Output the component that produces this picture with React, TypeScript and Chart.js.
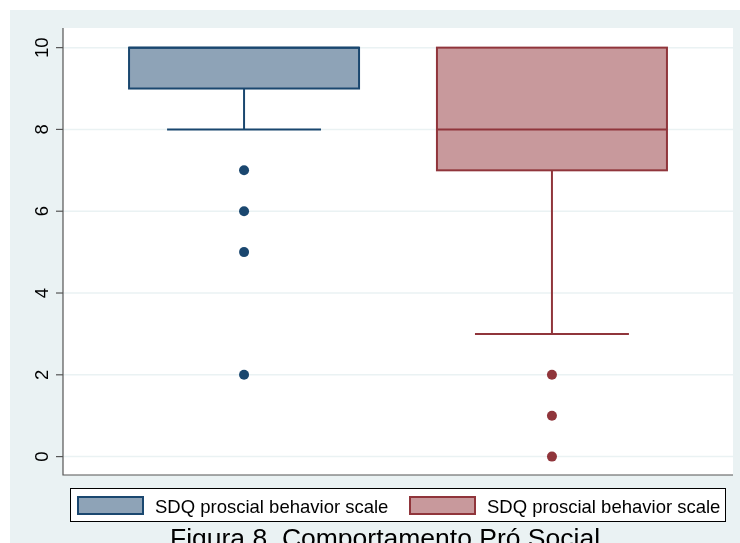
import React, { useEffect, useRef } from "react";
import { Chart, registerables } from "chart.js";

Chart.register(...registerables);

// ---- data ----
const categories = ["SDQ proscial behavior scale", "SDQ proscial behavior scale"];
const groupX = [1, 2];
const q1 = [9, 7];
const median = [10, 8];
const q3 = [10, 10];
const lowerWhisker = [8, 3];
const upperWhisker = [10, 10];
const outliers1 = [7, 6, 5, 2];
const outliers2 = [2, 1, 0];
const yTicks = [0, 2, 4, 6, 8, 10];
const titleText = "Figura 8. Comportamento Pró Social";

const fillColors = ["#8EA3B7", "#C8999C"];
const lineColors = ["#1A476F", "#90353B"];
const gridColor = "#EAF2F3";
const bgColor = "#EAF2F3";
const FONT = "'Liberation Sans', Arial, sans-serif";

const boxPlugin = {
  id: "boxPlugin",
  beforeDraw(chart: any) {
    const ctx = chart.ctx;
    const { left, right, top, bottom } = chart.chartArea;
    ctx.save();
    ctx.fillStyle = "#ffffff";
    ctx.fillRect(0, 0, chart.width, chart.height);
    ctx.fillStyle = bgColor;
    ctx.fillRect(10, 10, chart.width - 10, chart.height - 10);
    ctx.fillStyle = "#ffffff";
    ctx.fillRect(left, top, right - left, bottom - top);
    ctx.restore();
  },
  beforeDatasetsDraw(chart: any) {
    const ctx = chart.ctx;
    const xs = chart.scales.x;
    const ys = chart.scales.y;
    const { left, right, top, bottom } = chart.chartArea;
    ctx.save();
    // grid lines
    ctx.strokeStyle = gridColor;
    ctx.lineWidth = 1.5;
    yTicks.forEach((t) => {
      const y = ys.getPixelForValue(t);
      ctx.beginPath();
      ctx.moveTo(left, y);
      ctx.lineTo(right, y);
      ctx.stroke();
    });
    // axes
    ctx.strokeStyle = "#555555";
    ctx.lineWidth = 1.2;
    ctx.beginPath();
    ctx.moveTo(left, top);
    ctx.lineTo(left, bottom);
    ctx.lineTo(right, bottom);
    ctx.stroke();
    // ticks and labels
    ctx.fillStyle = "#000000";
    ctx.font = `18.5px ${FONT}`;
    ctx.textAlign = "center";
    ctx.textBaseline = "alphabetic";
    yTicks.forEach((t) => {
      const y = ys.getPixelForValue(t);
      ctx.beginPath();
      ctx.moveTo(left - 7, y);
      ctx.lineTo(left, y);
      ctx.stroke();
      ctx.save();
      ctx.translate(48, y);
      ctx.rotate(-Math.PI / 2);
      ctx.fillText(String(t), 0, 0);
      ctx.restore();
    });
    // boxes
    const boxW = 0.747;
    const capW = 0.5;
    groupX.forEach((gx, i) => {
      const xl = xs.getPixelForValue(gx - boxW / 2);
      const xr = xs.getPixelForValue(gx + boxW / 2);
      const xc = xs.getPixelForValue(gx);
      const cl = xs.getPixelForValue(gx - capW / 2);
      const cr = xs.getPixelForValue(gx + capW / 2);
      const yq1 = ys.getPixelForValue(q1[i]);
      const yq3 = ys.getPixelForValue(q3[i]);
      const ym = ys.getPixelForValue(median[i]);
      const ylw = ys.getPixelForValue(lowerWhisker[i]);
      const yuw = ys.getPixelForValue(upperWhisker[i]);
      ctx.strokeStyle = lineColors[i];
      ctx.lineWidth = 2;
      // whiskers
      if (lowerWhisker[i] < q1[i]) {
        ctx.beginPath();
        ctx.moveTo(xc, yq1);
        ctx.lineTo(xc, ylw);
        ctx.stroke();
        ctx.beginPath();
        ctx.moveTo(cl, ylw);
        ctx.lineTo(cr, ylw);
        ctx.stroke();
      }
      if (upperWhisker[i] > q3[i]) {
        ctx.beginPath();
        ctx.moveTo(xc, yq3);
        ctx.lineTo(xc, yuw);
        ctx.stroke();
        ctx.beginPath();
        ctx.moveTo(cl, yuw);
        ctx.lineTo(cr, yuw);
        ctx.stroke();
      }
      ctx.fillStyle = fillColors[i];
      ctx.fillRect(xl, yq3, xr - xl, yq1 - yq3);
      ctx.strokeRect(xl, yq3, xr - xl, yq1 - yq3);
      ctx.beginPath();
      ctx.moveTo(xl, ym);
      ctx.lineTo(xr, ym);
      ctx.stroke();
    });
    ctx.restore();
  },
  afterDraw(chart: any) {
    const ctx = chart.ctx;
    ctx.save();
    // legend
    ctx.fillStyle = "#ffffff";
    ctx.fillRect(70, 488, 656, 34);
    ctx.strokeStyle = "#000000";
    ctx.lineWidth = 1;
    ctx.strokeRect(70.5, 488.5, 655, 33);
    const swX = [78, 410];
    const txX = [155, 487];
    ctx.font = `18.5px ${FONT}`;
    ctx.textAlign = "left";
    ctx.textBaseline = "alphabetic";
    categories.forEach((c, i) => {
      ctx.fillStyle = fillColors[i];
      ctx.fillRect(swX[i], 497, 65, 17);
      ctx.strokeStyle = lineColors[i];
      ctx.lineWidth = 2;
      ctx.strokeRect(swX[i], 497, 65, 17);
      ctx.fillStyle = "#000000";
      ctx.fillText(c, txX[i], 512.7);
    });
    // title
    ctx.font = `26.5px ${FONT}`;
    ctx.textAlign = "center";
    ctx.fillStyle = "#000000";
    ctx.fillText(titleText, 385, 547);
    ctx.restore();
  },
};

export default function App() {
  const ref = useRef<HTMLCanvasElement | null>(null);
  useEffect(() => {
    if (!ref.current) return;
    const chart = new Chart(ref.current, {
      type: "scatter",
      data: {
        datasets: [
          {
            label: categories[0],
            data: outliers1.map((v) => ({ x: groupX[0], y: v })),
            pointRadius: 5,
            pointBackgroundColor: lineColors[0],
            pointBorderColor: lineColors[0],
            pointBorderWidth: 0,
          },
          {
            label: categories[1],
            data: outliers2.map((v) => ({ x: groupX[1], y: v })),
            pointRadius: 5,
            pointBackgroundColor: lineColors[1],
            pointBorderColor: lineColors[1],
            pointBorderWidth: 0,
          },
        ],
      },
      options: {
        animation: false,
        responsive: false,
        devicePixelRatio: 1,
        layout: { padding: { left: 63, top: 28, right: 7, bottom: 68 } },
        plugins: { legend: { display: false }, tooltip: { enabled: false }, title: { display: false } },
        scales: {
          x: { type: "linear", min: 0.412, max: 2.588, display: false },
          y: { type: "linear", min: -0.45, max: 10.48, display: false },
        },
      },
      plugins: [boxPlugin],
    });
    return () => chart.destroy();
  }, []);
  return (
    <div style={{ position: "fixed", left: 0, top: 0, width: 740, height: 543 }}>
      <canvas ref={ref} width={740} height={543} style={{ width: 740, height: 543 }} />
    </div>
  );
}
